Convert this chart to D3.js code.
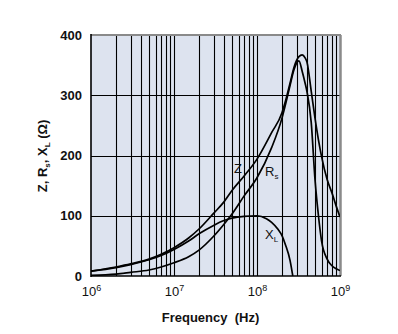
<!DOCTYPE html>
<html>
<head>
<meta charset="utf-8">
<script src="https://cdn.jsdelivr.net/npm/d3@7"></script>
<style>
  html, body { margin: 0; padding: 0; background: #ffffff; }
  svg { display: block; font-family: "Liberation Sans", Arial, sans-serif; }
</style>
</head>
<body>
<svg id="chart" width="398" height="334"></svg>
<script>
// Frequency sweep (Hz) shared by Z and Rs
const freqHz = [1e6, 2e6, 3e6, 5e6, 7e6, 1e7, 1.5e7, 2e7, 3e7, 4e7, 5e7, 7e7, 1e8, 1.5e8, 2e8,
                2.2e8, 2.5e8, 2.8e8, 3.2e8, 3.5e8, 3.8e8, 4e8, 4.5e8, 5e8, 5.5e8, 6e8, 7e8, 8e8, 9e8, 1e9];
// Impedance magnitude Z (ohm)
const zOhm  = [8, 15, 20, 28, 36, 47, 63, 78, 104, 123, 142, 166, 194, 238, 271,
               290, 320, 347, 364, 367, 362, 355, 307, 262, 226, 198, 160, 138, 116, 98];
// Series resistance Rs (ohm)
const rsOhm = [1, 3, 6, 10, 15, 22, 32, 43, 66, 86, 103, 133, 163, 213, 262,
               284, 316, 343, 357, 340, 320, 306, 255, 160, 100, 58, 28, 17, 12, 9];
// Inductive reactance XL (ohm), drawn until it reaches zero
const xlFreqHz = [1e6, 2e6, 3e6, 5e6, 7e6, 1e7, 1.5e7, 2e7, 3e7, 4e7, 5e7, 7e7, 1e8, 1.3e8, 1.5e8,
                  1.8e8, 2e8, 2.2e8, 2.5e8, 2.7e8];
const xlOhm = [8, 14, 19, 27, 34, 44, 58, 70, 84, 92, 96, 99, 100, 95, 89,
               77, 67, 52, 26, 0];

// Axis ticks
const xTickValues = [1e6, 1e7, 1e8, 1e9];
const xTickExponents = ["6", "7", "8", "9"];
const yTickValues = [0, 100, 200, 300, 400];

const svg = d3.select("#chart");
const plotLeft = 91, plotRight = 340, plotTop = 35, plotBottom = 276;

const x = d3.scaleLog().domain([1e6, 1e9]).range([plotLeft, plotRight]);
const y = d3.scaleLinear().domain([0, 400]).range([plotBottom, plotTop]);

// Plot background
svg.append("rect")
  .attr("x", plotLeft).attr("y", plotTop)
  .attr("width", plotRight - plotLeft).attr("height", plotBottom - plotTop)
  .attr("fill", "#dde3ef");

// Grid: every 1..9 multiple of each decade, plus 100-ohm steps
const grid = svg.append("g").attr("stroke", "#000").attr("stroke-width", 1.1);
grid.selectAll("line.v").data(x.ticks().filter(d => d > 1e6 && d < 1e9)).join("line")
  .attr("x1", d => Math.round(x(d)) + 0.5).attr("x2", d => Math.round(x(d)) + 0.5)
  .attr("y1", plotTop).attr("y2", plotBottom);
grid.selectAll("line.h").data(yTickValues.filter(d => d > 0 && d < 400)).join("line")
  .attr("x1", plotLeft).attr("x2", plotRight)
  .attr("y1", d => Math.round(y(d)) + 0.5).attr("y2", d => Math.round(y(d)) + 0.5);

// Frame: grey on top/right, black on left/bottom
svg.append("line").attr("x1", plotLeft).attr("x2", plotRight + 1).attr("y1", plotTop).attr("y2", plotTop)
  .attr("stroke", "#8a8a8a").attr("stroke-width", 2);
svg.append("line").attr("x1", plotRight + 0.5).attr("x2", plotRight + 0.5).attr("y1", plotTop).attr("y2", plotBottom)
  .attr("stroke", "#8a8a8a").attr("stroke-width", 2.5);
svg.append("line").attr("x1", plotLeft).attr("x2", plotLeft).attr("y1", plotTop - 1).attr("y2", plotBottom + 1)
  .attr("stroke", "#000").attr("stroke-width", 1.6);
svg.append("line").attr("x1", plotLeft).attr("x2", plotRight + 1).attr("y1", plotBottom).attr("y2", plotBottom)
  .attr("stroke", "#000").attr("stroke-width", 1.6);

// Curves
svg.append("clipPath").attr("id", "plotClip").append("rect")
  .attr("x", plotLeft).attr("y", plotTop).attr("width", plotRight - plotLeft).attr("height", plotBottom - plotTop);

const line = d3.line().x(d => x(d[0])).y(d => y(d[1])).curve(d3.curveMonotoneX);
const curves = svg.append("g").attr("clip-path", "url(#plotClip)")
  .attr("fill", "none").attr("stroke", "#000").attr("stroke-width", 1.7);
curves.append("path").attr("d", line(d3.zip(freqHz, zOhm)));
curves.append("path").attr("d", line(d3.zip(freqHz, rsOhm)));
curves.append("path").attr("d", line(d3.zip(xlFreqHz, xlOhm)));

// Y axis
const yAxis = svg.append("g")
  .attr("transform", `translate(${plotLeft},0)`)
  .call(d3.axisLeft(y).tickValues(yTickValues).tickSize(0).tickPadding(9));
yAxis.select(".domain").remove();
yAxis.selectAll("text")
  .attr("font-family", "Liberation Sans, Arial, sans-serif")
  .attr("font-size", 13).attr("font-weight", "bold").attr("fill", "#111");

// X axis with power-of-ten labels
const xAxis = svg.append("g")
  .attr("transform", `translate(0,${plotBottom})`)
  .call(d3.axisBottom(x).tickValues(xTickValues).tickSize(0).tickFormat(() => ""));
xAxis.select(".domain").remove();
xAxis.selectAll(".tick text").each(function(d, i) {
  const t = d3.select(this)
    .attr("y", 20).attr("dy", 0)
    .attr("font-family", "Liberation Sans, Arial, sans-serif")
    .attr("font-size", 13).attr("fill", "#111")
    .attr("text-anchor", "middle");
  t.append("tspan").text("10");
  t.append("tspan").attr("dy", -5).attr("font-size", 9).text(xTickExponents[i]);
});

// Axis titles
svg.append("text")
  .attr("x", (plotLeft + plotRight) / 2 - 5).attr("y", 322)
  .attr("text-anchor", "middle")
  .attr("font-size", 13).attr("font-weight", "bold").attr("fill", "#111")
  .attr("xml:space", "preserve")
  .text("Frequency  (Hz)");

const yTitle = svg.append("text")
  .attr("transform", "translate(47,156) rotate(-90)")
  .attr("text-anchor", "middle")
  .attr("font-size", 13).attr("font-weight", "bold").attr("fill", "#111");
yTitle.append("tspan").text("Z, R");
yTitle.append("tspan").attr("font-size", 8).attr("dy", 3).text("s");
yTitle.append("tspan").attr("dy", -3).text(", X");
yTitle.append("tspan").attr("font-size", 8).attr("dy", 3).text("L");
yTitle.append("tspan").attr("dy", -3).text(" (Ω)");

// Curve labels
const labels = svg.append("g").attr("font-size", 13).attr("fill", "#111");
labels.append("text").attr("x", x(5.3e7)).attr("y", y(171)).text("Z");
const rsLabel = labels.append("text").attr("x", x(1.25e8)).attr("y", y(166));
rsLabel.append("tspan").text("R");
rsLabel.append("tspan").attr("font-size", 8).attr("dy", 3).text("s");
const xlLabel = labels.append("text").attr("x", x(1.25e8)).attr("y", y(62));
xlLabel.append("tspan").text("X");
xlLabel.append("tspan").attr("font-size", 8).attr("dy", 3).text("L");
</script>
</body>
</html>
